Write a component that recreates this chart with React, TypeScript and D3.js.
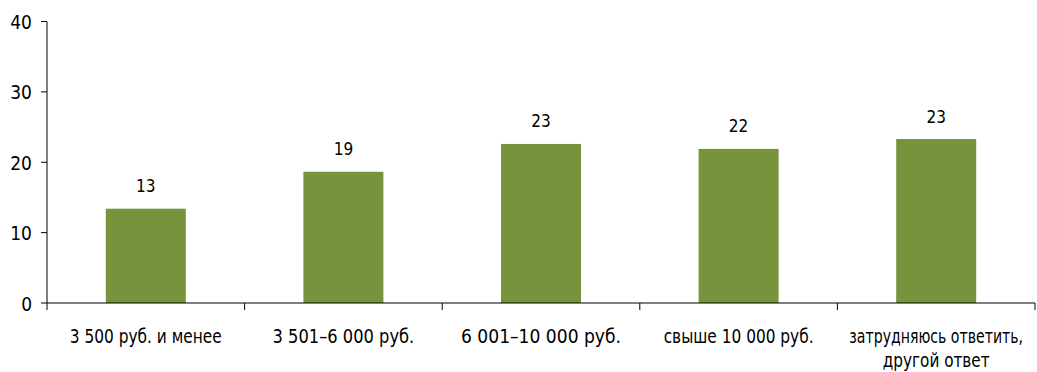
import React, { useLayoutEffect, useRef, useState } from "react";
import * as d3 from "d3";

const categories: string[][] = [
  ["3 500 руб. и менее"],
  ["3 501–6 000 руб."],
  ["6 001–10 000 руб."],
  ["свыше 10 000 руб."],
  ["затрудняюсь ответить,", "другой ответ"],
];
const values: number[] = [13.4, 18.65, 22.6, 21.9, 23.3];
const valueLabels: string[] = ["13", "19", "23", "22", "23"];
const yTicks: number[] = [0, 10, 20, 30, 40];

// rendered widths of the category label lines (layout only)
const labelWidths: number[][] = [[152], [141.7], [160], [150], [174, 107]];

const W = 1037;
const H = 372;
const FONT = "'DejaVu Sans Condensed', 'DejaVu Sans', sans-serif";

export default function App() {
  const x = d3
    .scaleBand<number>()
    .domain(d3.range(categories.length))
    .range([47, 1035])
    .paddingInner(0)
    .paddingOuter(0);
  const y = d3.scaleLinear().domain([0, 40]).range([303, 21.5]);
  const bw = 80;
  const color = "#77933C";
  const bounds = [...d3.range(categories.length).map((i) => x(i)!), 1035];

  const refs = useRef<Record<string, SVGTextElement | null>>({});
  const [scales, setScales] = useState<Record<string, number>>({});

  useLayoutEffect(() => {
    const s: Record<string, number> = {};
    categories.forEach((lines, i) =>
      lines.forEach((_, j) => {
        const el = refs.current[`${i}-${j}`];
        if (el) {
          const w = el.getComputedTextLength();
          s[`${i}-${j}`] = w > 0 ? labelWidths[i][j] / w : 1;
        }
      })
    );
    setScales(s);
  }, []);

  return (
    <svg
      width={W}
      height={H}
      style={{ position: "absolute", left: 0, top: 0 }}
      fontFamily={FONT}
    >
      {values.map((v, i) => {
        const cx = x(i)! + x.bandwidth() / 2;
        return (
          <g key={i}>
            <rect x={cx - bw / 2} y={y(v)} width={bw} height={y(0) - y(v)} fill={color} />
            <text x={cx} y={y(v) - 16.5} textAnchor="middle" fontSize={17} fill="#000">
              {valueLabels[i]}
            </text>
          </g>
        );
      })}
      {/* y axis */}
      <line x1={47} x2={47} y1={y(40)} y2={y(0)} stroke="#000" strokeWidth={1} />
      {yTicks.map((t) => (
        <g key={t}>
          <line x1={41} x2={47} y1={y(t)} y2={y(t)} stroke="#000" strokeWidth={1} />
          <text x={32} y={y(t) + 7.5} textAnchor="end" fontSize={19} fill="#000">
            {t}
          </text>
        </g>
      ))}
      {/* x axis */}
      <line x1={47} x2={1035} y1={y(0)} y2={y(0)} stroke="#000" strokeWidth={1} />
      {bounds.map((b, i) => (
        <line key={i} x1={b} x2={b} y1={y(0)} y2={y(0) + 7} stroke="#000" strokeWidth={1} />
      ))}
      {categories.map((lines, i) => {
        const cx = x(i)! + x.bandwidth() / 2;
        return (
          <g key={i}>
            {lines.map((l, j) => {
              const k = `${i}-${j}`;
              const sx = scales[k] ?? 1;
              return (
                <text
                  key={j}
                  ref={(el) => {
                    refs.current[k] = el;
                  }}
                  x={0}
                  y={0}
                  transform={`translate(${cx},${343 + j * 24}) scale(${sx},1)`}
                  textAnchor="middle"
                  fontSize={19}
                  fill="#000"
                >
                  {l}
                </text>
              );
            })}
          </g>
        );
      })}
    </svg>
  );
}
